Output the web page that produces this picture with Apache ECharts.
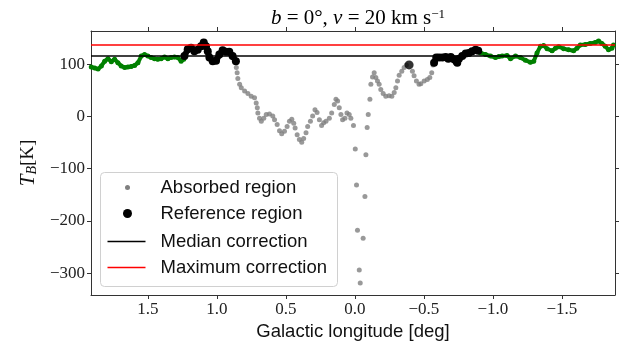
<!DOCTYPE html>
<html>
<head>
<meta charset="utf-8">
<script src="https://cdn.jsdelivr.net/npm/echarts@6/dist/echarts.min.js"></script>
<style>
  html, body { margin: 0; padding: 0; background: #fff; }
  #chart { width: 625px; height: 362px; }
</style>
</head>
<body>
<div id="chart"></div>
<script>
'use strict';

// [longitude (deg), T_B (K)]
var outsideLeft = [
    [1.910, 95], [1.885, 93], [1.861, 91], [1.837, 97], [1.813, 106], [1.789, 111],
    [1.765, 105], [1.741, 110], [1.717, 103], [1.693, 97], [1.668, 94], [1.645, 95],
    [1.621, 96], [1.596, 98], [1.572, 103], [1.548, 116], [1.524, 119], [1.500, 116],
    [1.476, 113], [1.452, 111], [1.428, 110], [1.404, 111], [1.379, 114], [1.355, 111],
    [1.332, 113], [1.307, 114], [1.283, 113], [1.259, 106], [1.240, 110]
];

var referenceLeft = [
    [1.235, 116], [1.211, 129], [1.187, 132], [1.163, 125], [1.139, 128], [1.115, 135],
    [1.095, 142], [1.079, 135], [1.066, 125], [1.054, 113], [1.030, 106], [1.006, 107],
    [0.982, 119], [0.958, 127], [0.934, 124], [0.910, 124], [0.886, 116], [0.862, 106]
];

var absorbed = [
    [0.859, 94], [0.853, 84], [0.848, 73], [0.835, 62], [0.823, 55], [0.799, 49],
    [0.775, 44], [0.751, 39], [0.727, 36], [0.715, 26], [0.707, 17], [0.703, 7],
    [0.691, -3], [0.678, -9], [0.660, -3], [0.642, 4], [0.619, 5], [0.595, 1],
    [0.582, -6], [0.563, -15], [0.546, -27], [0.530, -33], [0.510, -28], [0.491, -19],
    [0.474, -9], [0.457, -5], [0.443, -13], [0.433, -22], [0.418, -35], [0.402, -44],
    [0.385, -49], [0.371, -42], [0.354, -31], [0.342, -19], [0.322, -9], [0.306, 1],
    [0.289, 13], [0.274, 8], [0.257, -6], [0.241, -17], [0.226, -12], [0.209, -9],
    [0.185, -3], [0.168, 7], [0.149, 23], [0.137, 33], [0.125, 30], [0.113, 17],
    [0.101, 4], [0.089, -6], [0.072, -3], [0.057, 7], [0.041, 4], [0.029, -3],
    [0.010, -17], [-0.003, -62], [-0.012, -131], [-0.019, -218], [-0.032, -294],
    [-0.039, -319], [-0.060, -233], [-0.073, -153], [-0.080, -73], [-0.089, -21],
    [-0.097, 4], [-0.109, 33], [-0.116, 62], [-0.128, 76], [-0.140, 84], [-0.152, 75],
    [-0.164, 68], [-0.176, 62], [-0.188, 52], [-0.205, 44], [-0.224, 39], [-0.248, 40],
    [-0.268, 39], [-0.285, 46], [-0.297, 55], [-0.309, 68], [-0.321, 79], [-0.340, 87],
    [-0.357, 94], [-0.373, 99], [-0.417, 87], [-0.429, 78], [-0.446, 68], [-0.465, 62],
    [-0.478, 63], [-0.502, 68], [-0.525, 71], [-0.543, 75], [-0.557, 84], [-0.566, 99]
];

var referencePoint = [[-0.393, 99]];

var referenceRight = [
    [-0.574, 103], [-0.590, 113], [-0.610, 113], [-0.634, 113], [-0.658, 114], [-0.677, 111],
    [-0.695, 114], [-0.718, 110], [-0.735, 106], [-0.742, 103], [-0.754, 111], [-0.778, 116],
    [-0.803, 121], [-0.826, 122], [-0.850, 125], [-0.875, 128], [-0.894, 126]
];

var outsideRight = [
    [-0.911, 122], [-0.947, 119], [-0.983, 116], [-1.019, 113], [-1.043, 115], [-1.067, 116],
    [-1.103, 117], [-1.128, 111], [-1.164, 116], [-1.200, 113], [-1.236, 108], [-1.272, 104],
    [-1.296, 106], [-1.320, 122], [-1.345, 135], [-1.368, 136], [-1.393, 130], [-1.429, 126],
    [-1.453, 131], [-1.477, 134], [-1.513, 130], [-1.549, 128], [-1.585, 126], [-1.609, 131],
    [-1.633, 137], [-1.669, 138], [-1.705, 140], [-1.742, 142], [-1.766, 145], [-1.790, 140],
    [-1.814, 135], [-1.838, 128], [-1.862, 131], [-1.874, 137]
];

var medianCorrection = 116;
var maximumCorrection = 138;

var xTicks = [-1.5, -1.0, -0.5, 0.0, 0.5, 1.0, 1.5];
var yTicks = [-300, -200, -100, 0, 100];
var xRange = [-1.885, 1.912];
var yRange = [-342, 164];

var legendNames = ['Absorbed region', 'Reference region', 'Median correction', 'Maximum correction'];

var serif = 'Liberation Serif';
var sans = 'Liberation Sans';

function fmt(v, digits) {
    return v.toFixed(digits).replace('-', '\u2212');
}

var myChart = echarts.init(document.getElementById('chart'));

function segment(data, color, size, width) {
    return {
        type: 'line',
        data: data,
        symbol: 'circle',
        symbolSize: size,
        showSymbol: true,
        itemStyle: {color: color},
        lineStyle: {color: color, width: width},
        z: 3
    };
}

var axisLineStyle = {color: '#333', width: 1};

var option = {
    animation: false,
    title: {
        text: '{i|b} = 0°, {i|v} = 20 km s{sup|\u22121}',
        left: 353,
        top: 3,
        textAlign: 'center',
        textStyle: {
            fontFamily: serif, fontSize: 21, fontWeight: 'normal', color: '#000',
            rich: {
                i: {fontFamily: serif, fontStyle: 'italic', fontSize: 21},
                sup: {fontFamily: serif, fontSize: 13, verticalAlign: 'top'}
            }
        }
    },
    grid: {left: 91, right: 10, top: 31, bottom: 67},
    xAxis: [{
        type: 'value', inverse: true, min: xRange[0], max: xRange[1],
        position: 'bottom',
        name: 'Galactic longitude [deg]',
        nameLocation: 'middle', nameGap: 26,
        nameTextStyle: {fontFamily: sans, fontSize: 18.5, color: '#111'},
        splitLine: {show: false},
        axisLine: {onZero: false, lineStyle: axisLineStyle},
        axisTick: {length: 4, lineStyle: axisLineStyle, customValues: xTicks},
        axisLabel: {
            customValues: xTicks, fontFamily: serif, fontSize: 17, color: '#222', margin: 6,
            formatter: function (v) { return fmt(v, 1); }
        }
    }, {
        type: 'value', inverse: true, min: xRange[0], max: xRange[1],
        position: 'top',
        splitLine: {show: false},
        axisLine: {onZero: false, lineStyle: axisLineStyle},
        axisTick: {length: 4, lineStyle: axisLineStyle, customValues: xTicks},
        axisLabel: {show: false}
    }],
    yAxis: [{
        type: 'value', min: yRange[0], max: yRange[1],
        position: 'left',
        name: '{t|T}{s|B}{n|[K]}',
        nameLocation: 'middle', nameGap: 52,
        nameTextStyle: {
            color: '#111',
            rich: {
                t: {fontFamily: serif, fontStyle: 'italic', fontSize: 21},
                s: {fontFamily: serif, fontStyle: 'italic', fontSize: 14, verticalAlign: 'bottom'},
                n: {fontFamily: serif, fontSize: 19}
            }
        },
        splitLine: {show: false},
        axisLine: {show: true, onZero: false, lineStyle: axisLineStyle},
        axisTick: {show: true, length: 4, lineStyle: axisLineStyle, customValues: yTicks},
        axisLabel: {
            customValues: yTicks, fontFamily: serif, fontSize: 17, color: '#222', margin: 6,
            formatter: function (v) { return fmt(v, 0); }
        }
    }, {
        type: 'value', min: yRange[0], max: yRange[1],
        position: 'right',
        splitLine: {show: false},
        axisLine: {show: true, onZero: false, lineStyle: axisLineStyle},
        axisTick: {show: true, length: 4, lineStyle: axisLineStyle, customValues: yTicks},
        axisLabel: {show: false}
    }],
    series: [
        {
            name: legendNames[0],
            type: 'scatter',
            data: absorbed,
            symbolSize: 5,
            itemStyle: {color: '#808080'},
            z: 2,
            markLine: {
                silent: true,
                symbol: ['none', 'none'],
                label: {show: false},
                data: [
                    {yAxis: medianCorrection, lineStyle: {color: '#000', width: 1.5, type: 'solid'}},
                    {yAxis: maximumCorrection, lineStyle: {color: '#f00', width: 1.5, type: 'solid'}}
                ]
            }
        },
        segment(outsideLeft, '#008000', 5, 4),
        segment(outsideRight, '#008000', 5, 4),
        segment(referenceLeft, '#000', 8, 6),
        segment(referenceRight, '#000', 8, 6),
        {
            name: legendNames[1],
            type: 'scatter',
            data: referencePoint,
            symbolSize: 9,
            itemStyle: {color: '#000'},
            z: 3
        }
    ],
    graphic: [{
        type: 'group',
        left: 100, top: 172,
        z: 10,
        children: [
            {type: 'rect', shape: {x: 0, y: 0, width: 237, height: 114, r: 4},
             style: {fill: 'rgba(255,255,255,0.85)', stroke: '#d0d0d0', lineWidth: 1}},
            {type: 'circle', shape: {cx: 27, cy: 15, r: 2.5}, style: {fill: '#808080'}},
            {type: 'circle', shape: {cx: 27, cy: 41, r: 4.5}, style: {fill: '#000'}},
            {type: 'line', shape: {x1: 7, y1: 69, x2: 45, y2: 69}, style: {stroke: '#000', lineWidth: 1.5}},
            {type: 'line', shape: {x1: 7, y1: 95, x2: 45, y2: 95}, style: {stroke: '#f00', lineWidth: 1.5}},
            {type: 'text', x: 60, y: 15, style: {text: legendNames[0], font: '18.5px ' + sans, fill: '#111', verticalAlign: 'middle'}},
            {type: 'text', x: 60, y: 41, style: {text: legendNames[1], font: '18.5px ' + sans, fill: '#111', verticalAlign: 'middle'}},
            {type: 'text', x: 60, y: 69, style: {text: legendNames[2], font: '18.5px ' + sans, fill: '#111', verticalAlign: 'middle'}},
            {type: 'text', x: 60, y: 95, style: {text: legendNames[3], font: '18.5px ' + sans, fill: '#111', verticalAlign: 'middle'}}
        ]
    }]
};

myChart.setOption(option);
</script>
</body>
</html>
